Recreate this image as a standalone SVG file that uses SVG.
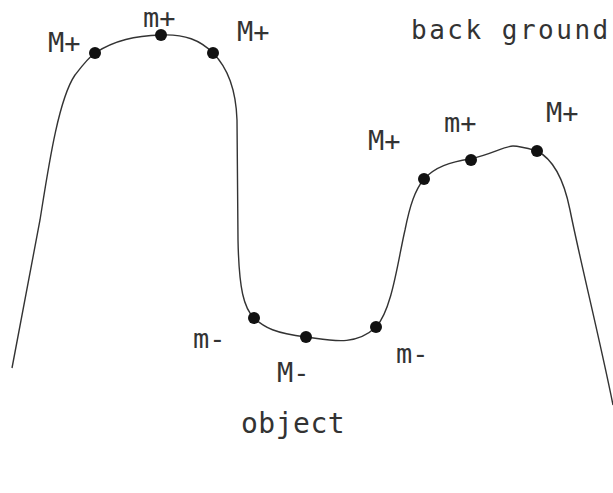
<svg xmlns="http://www.w3.org/2000/svg" width="613" height="493" viewBox="0 0 613 493">
<style>
.t{font-family:"DejaVu Sans Mono","Liberation Mono",monospace;fill:#333;}
.lab{font-size:27px;}
.dot{fill:#111;}
.curve{fill:none;stroke:#333;stroke-width:1.4;}
</style>
<rect width="613" height="493" fill="#fff"/>
<g id="connectors">
<path class="curve" d="M 12 368 L 40 220 C 48 170, 58 100, 75 75 C 82 66, 88 58, 95 53 C 115 40, 135 36, 161 35 C 185 34, 200 40, 213 53 C 228 68, 236 90, 237 120 L 238 240 C 239 290, 244 308, 254 318 C 265 328, 275 333, 306 337 C 330 340, 355 347, 376 327 C 392 310, 398 260, 405 230 C 410 205, 415 190, 424 179 C 435 167, 450 162, 470 159 C 490 155, 505 146, 513 146 C 520 146, 530 149, 537 151 C 555 160, 565 185, 570 210 C 580 260, 600 340, 613 405"/>
</g>
<g id="dots">
<circle class="dot" cx="95" cy="53" r="6"/>
<circle class="dot" cx="161" cy="35" r="6"/>
<circle class="dot" cx="213" cy="53" r="6"/>
<circle class="dot" cx="254" cy="318" r="6"/>
<circle class="dot" cx="306" cy="337" r="6"/>
<circle class="dot" cx="376" cy="327" r="6"/>
<circle class="dot" cx="424" cy="179" r="6"/>
<circle class="dot" cx="471" cy="160" r="6"/>
<circle class="dot" cx="537" cy="151" r="6"/>
</g>
<g id="labels">
<text class="t lab" x="48" y="52">M+</text>
<text class="t lab" x="143" y="27">m+</text>
<text class="t lab" x="237" y="41">M+</text>
<text class="t" x="411" y="39" font-size="26" letter-spacing="2.5">back ground</text>
<text class="t lab" x="368" y="150">M+</text>
<text class="t lab" x="444" y="132">m+</text>
<text class="t lab" x="546" y="122">M+</text>
<text class="t lab" x="193" y="348">m-</text>
<text class="t lab" x="277" y="382">M-</text>
<text class="t lab" x="396" y="363">m-</text>
<text class="t" x="241" y="433" font-size="28" letter-spacing="0.5">object</text>
</g>
</svg>
